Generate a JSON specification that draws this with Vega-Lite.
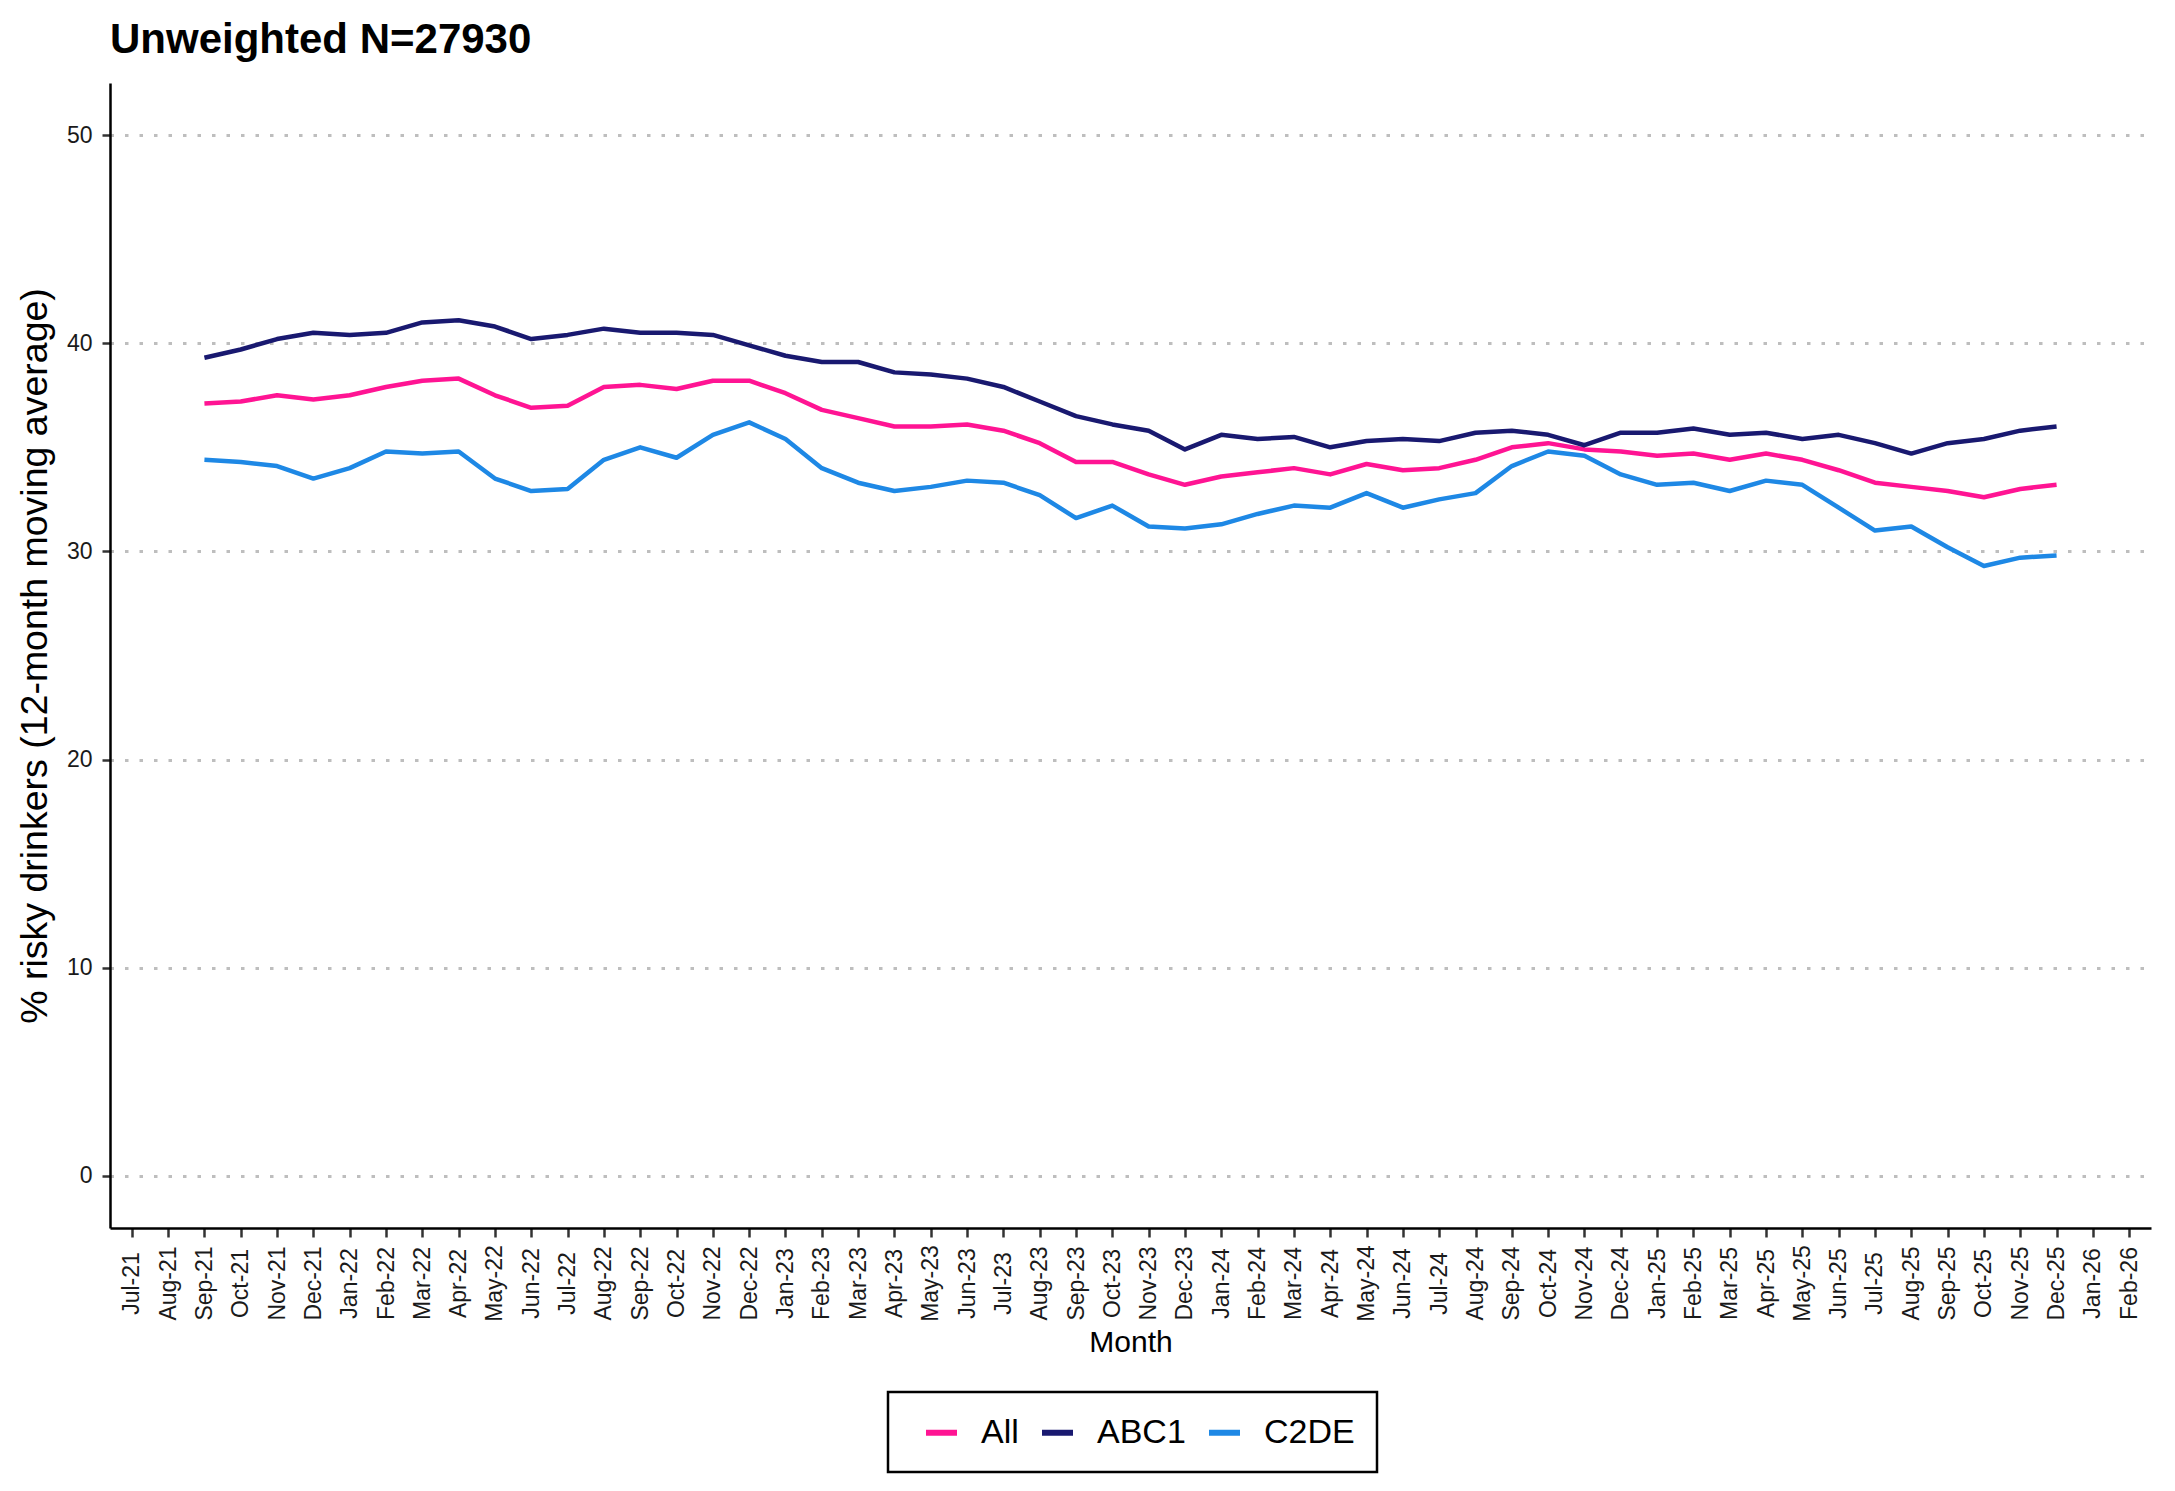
{
  "$schema": "https://vega.github.io/schema/vega-lite/v6.json",
  "width": 2041,
  "height": 1145,
  "autosize": {"type": "none"},
  "padding": {"left": 110, "top": 83, "right": 24, "bottom": 263},
  "background": "white",
  "title": {"text": "Unweighted N=27930", "anchor": "start", "frame": "group", "fontSize": 42, "fontWeight": "bold", "font": "Liberation Sans", "color": "black", "offset": 21},
  "datasets": {
    "series": [
      {"m":"Sep-21","g":"All","v":37.1},{"m":"Oct-21","g":"All","v":37.2},{"m":"Nov-21","g":"All","v":37.5},{"m":"Dec-21","g":"All","v":37.3},
      {"m":"Jan-22","g":"All","v":37.5},{"m":"Feb-22","g":"All","v":37.9},{"m":"Mar-22","g":"All","v":38.2},{"m":"Apr-22","g":"All","v":38.3},
      {"m":"May-22","g":"All","v":37.5},{"m":"Jun-22","g":"All","v":36.9},{"m":"Jul-22","g":"All","v":37.0},{"m":"Aug-22","g":"All","v":37.9},
      {"m":"Sep-22","g":"All","v":38.0},{"m":"Oct-22","g":"All","v":37.8},{"m":"Nov-22","g":"All","v":38.2},{"m":"Dec-22","g":"All","v":38.2},
      {"m":"Jan-23","g":"All","v":37.6},{"m":"Feb-23","g":"All","v":36.8},{"m":"Mar-23","g":"All","v":36.4},{"m":"Apr-23","g":"All","v":36.0},
      {"m":"May-23","g":"All","v":36.0},{"m":"Jun-23","g":"All","v":36.1},{"m":"Jul-23","g":"All","v":35.8},{"m":"Aug-23","g":"All","v":35.2},
      {"m":"Sep-23","g":"All","v":34.3},{"m":"Oct-23","g":"All","v":34.3},{"m":"Nov-23","g":"All","v":33.7},{"m":"Dec-23","g":"All","v":33.2},
      {"m":"Jan-24","g":"All","v":33.6},{"m":"Feb-24","g":"All","v":33.8},{"m":"Mar-24","g":"All","v":34.0},{"m":"Apr-24","g":"All","v":33.7},
      {"m":"May-24","g":"All","v":34.2},{"m":"Jun-24","g":"All","v":33.9},{"m":"Jul-24","g":"All","v":34.0},{"m":"Aug-24","g":"All","v":34.4},
      {"m":"Sep-24","g":"All","v":35.0},{"m":"Oct-24","g":"All","v":35.2},{"m":"Nov-24","g":"All","v":34.9},{"m":"Dec-24","g":"All","v":34.8},
      {"m":"Jan-25","g":"All","v":34.6},{"m":"Feb-25","g":"All","v":34.7},{"m":"Mar-25","g":"All","v":34.4},{"m":"Apr-25","g":"All","v":34.7},
      {"m":"May-25","g":"All","v":34.4},{"m":"Jun-25","g":"All","v":33.9},{"m":"Jul-25","g":"All","v":33.3},{"m":"Aug-25","g":"All","v":33.1},
      {"m":"Sep-25","g":"All","v":32.9},{"m":"Oct-25","g":"All","v":32.6},{"m":"Nov-25","g":"All","v":33.0},{"m":"Dec-25","g":"All","v":33.2},

      {"m":"Sep-21","g":"ABC1","v":39.3},{"m":"Oct-21","g":"ABC1","v":39.7},{"m":"Nov-21","g":"ABC1","v":40.2},{"m":"Dec-21","g":"ABC1","v":40.5},
      {"m":"Jan-22","g":"ABC1","v":40.4},{"m":"Feb-22","g":"ABC1","v":40.5},{"m":"Mar-22","g":"ABC1","v":41.0},{"m":"Apr-22","g":"ABC1","v":41.1},
      {"m":"May-22","g":"ABC1","v":40.8},{"m":"Jun-22","g":"ABC1","v":40.2},{"m":"Jul-22","g":"ABC1","v":40.4},{"m":"Aug-22","g":"ABC1","v":40.7},
      {"m":"Sep-22","g":"ABC1","v":40.5},{"m":"Oct-22","g":"ABC1","v":40.5},{"m":"Nov-22","g":"ABC1","v":40.4},{"m":"Dec-22","g":"ABC1","v":39.9},
      {"m":"Jan-23","g":"ABC1","v":39.4},{"m":"Feb-23","g":"ABC1","v":39.1},{"m":"Mar-23","g":"ABC1","v":39.1},{"m":"Apr-23","g":"ABC1","v":38.6},
      {"m":"May-23","g":"ABC1","v":38.5},{"m":"Jun-23","g":"ABC1","v":38.3},{"m":"Jul-23","g":"ABC1","v":37.9},{"m":"Aug-23","g":"ABC1","v":37.2},
      {"m":"Sep-23","g":"ABC1","v":36.5},{"m":"Oct-23","g":"ABC1","v":36.1},{"m":"Nov-23","g":"ABC1","v":35.8},{"m":"Dec-23","g":"ABC1","v":34.9},
      {"m":"Jan-24","g":"ABC1","v":35.6},{"m":"Feb-24","g":"ABC1","v":35.4},{"m":"Mar-24","g":"ABC1","v":35.5},{"m":"Apr-24","g":"ABC1","v":35.0},
      {"m":"May-24","g":"ABC1","v":35.3},{"m":"Jun-24","g":"ABC1","v":35.4},{"m":"Jul-24","g":"ABC1","v":35.3},{"m":"Aug-24","g":"ABC1","v":35.7},
      {"m":"Sep-24","g":"ABC1","v":35.8},{"m":"Oct-24","g":"ABC1","v":35.6},{"m":"Nov-24","g":"ABC1","v":35.1},{"m":"Dec-24","g":"ABC1","v":35.7},
      {"m":"Jan-25","g":"ABC1","v":35.7},{"m":"Feb-25","g":"ABC1","v":35.9},{"m":"Mar-25","g":"ABC1","v":35.6},{"m":"Apr-25","g":"ABC1","v":35.7},
      {"m":"May-25","g":"ABC1","v":35.4},{"m":"Jun-25","g":"ABC1","v":35.6},{"m":"Jul-25","g":"ABC1","v":35.2},{"m":"Aug-25","g":"ABC1","v":34.7},
      {"m":"Sep-25","g":"ABC1","v":35.2},{"m":"Oct-25","g":"ABC1","v":35.4},{"m":"Nov-25","g":"ABC1","v":35.8},{"m":"Dec-25","g":"ABC1","v":36.0},

      {"m":"Sep-21","g":"C2DE","v":34.4},{"m":"Oct-21","g":"C2DE","v":34.3},{"m":"Nov-21","g":"C2DE","v":34.1},{"m":"Dec-21","g":"C2DE","v":33.5},
      {"m":"Jan-22","g":"C2DE","v":34.0},{"m":"Feb-22","g":"C2DE","v":34.8},{"m":"Mar-22","g":"C2DE","v":34.7},{"m":"Apr-22","g":"C2DE","v":34.8},
      {"m":"May-22","g":"C2DE","v":33.5},{"m":"Jun-22","g":"C2DE","v":32.9},{"m":"Jul-22","g":"C2DE","v":33.0},{"m":"Aug-22","g":"C2DE","v":34.4},
      {"m":"Sep-22","g":"C2DE","v":35.0},{"m":"Oct-22","g":"C2DE","v":34.5},{"m":"Nov-22","g":"C2DE","v":35.6},{"m":"Dec-22","g":"C2DE","v":36.2},
      {"m":"Jan-23","g":"C2DE","v":35.4},{"m":"Feb-23","g":"C2DE","v":34.0},{"m":"Mar-23","g":"C2DE","v":33.3},{"m":"Apr-23","g":"C2DE","v":32.9},
      {"m":"May-23","g":"C2DE","v":33.1},{"m":"Jun-23","g":"C2DE","v":33.4},{"m":"Jul-23","g":"C2DE","v":33.3},{"m":"Aug-23","g":"C2DE","v":32.7},
      {"m":"Sep-23","g":"C2DE","v":31.6},{"m":"Oct-23","g":"C2DE","v":32.2},{"m":"Nov-23","g":"C2DE","v":31.2},{"m":"Dec-23","g":"C2DE","v":31.1},
      {"m":"Jan-24","g":"C2DE","v":31.3},{"m":"Feb-24","g":"C2DE","v":31.8},{"m":"Mar-24","g":"C2DE","v":32.2},{"m":"Apr-24","g":"C2DE","v":32.1},
      {"m":"May-24","g":"C2DE","v":32.8},{"m":"Jun-24","g":"C2DE","v":32.1},{"m":"Jul-24","g":"C2DE","v":32.5},{"m":"Aug-24","g":"C2DE","v":32.8},
      {"m":"Sep-24","g":"C2DE","v":34.1},{"m":"Oct-24","g":"C2DE","v":34.8},{"m":"Nov-24","g":"C2DE","v":34.6},{"m":"Dec-24","g":"C2DE","v":33.7},
      {"m":"Jan-25","g":"C2DE","v":33.2},{"m":"Feb-25","g":"C2DE","v":33.3},{"m":"Mar-25","g":"C2DE","v":32.9},{"m":"Apr-25","g":"C2DE","v":33.4},
      {"m":"May-25","g":"C2DE","v":33.2},{"m":"Jun-25","g":"C2DE","v":32.1},{"m":"Jul-25","g":"C2DE","v":31.0},{"m":"Aug-25","g":"C2DE","v":31.2},
      {"m":"Sep-25","g":"C2DE","v":30.2},{"m":"Oct-25","g":"C2DE","v":29.3},{"m":"Nov-25","g":"C2DE","v":29.7},{"m":"Dec-25","g":"C2DE","v":29.8}
    ]
  },
  "data": {"name": "series"},
  "mark": {"type": "line", "strokeWidth": 4.5, "strokeJoin": "round"},
  "encoding": {
    "x": {
      "field": "m",
      "type": "ordinal",
      "scale": {
        "type": "point",
        "padding": 0.6,
        "domain": ["Jul-21","Aug-21","Sep-21","Oct-21","Nov-21","Dec-21","Jan-22","Feb-22","Mar-22","Apr-22","May-22","Jun-22","Jul-22","Aug-22","Sep-22","Oct-22","Nov-22","Dec-22","Jan-23","Feb-23","Mar-23","Apr-23","May-23","Jun-23","Jul-23","Aug-23","Sep-23","Oct-23","Nov-23","Dec-23","Jan-24","Feb-24","Mar-24","Apr-24","May-24","Jun-24","Jul-24","Aug-24","Sep-24","Oct-24","Nov-24","Dec-24","Jan-25","Feb-25","Mar-25","Apr-25","May-25","Jun-25","Jul-25","Aug-25","Sep-25","Oct-25","Nov-25","Dec-25","Jan-26","Feb-26"]
      },
      "axis": {
        "title": "Month",
        "titleFontSize": 30,
        "titleFontWeight": "normal",
        "titleColor": "black",
        "titlePadding": 6,
        "labelAngle": 270,
        "labelAlign": "center",
        "labelBaseline": "middle",
        "labelPadding": 46,
        "labelFontSize": 23,
        "labelColor": "#1a1a1a",
        "labelOverlap": false,
        "labelFlush": false,
        "tickSize": 9,
        "tickWidth": 2.5,
        "tickColor": "#333333",
        "domainColor": "black",
        "domainWidth": 2.5,
        "grid": false
      }
    },
    "y": {
      "field": "v",
      "type": "quantitative",
      "scale": {"domain": [-2.5, 52.5], "nice": false, "zero": false},
      "axis": {
        "values": [0, 10, 20, 30, 40, 50],
        "title": "% risky drinkers (12-month moving average)",
        "titleFontSize": 37.5,
        "titleFontWeight": "normal",
        "titleColor": "black",
        "titlePadding": 12,
        "labelFontSize": 23,
        "labelColor": "#1a1a1a",
        "labelPadding": 10,
        "tickSize": 8,
        "tickWidth": 2.5,
        "tickColor": "#333333",
        "domainColor": "black",
        "domainWidth": 2.5,
        "grid": true,
        "gridColor": "#BEBEBE",
        "gridDash": [3.5, 11],
        "gridWidth": 3
      }
    },
    "color": {
      "field": "g",
      "type": "nominal",
      "scale": {"domain": ["All", "ABC1", "C2DE"], "range": ["#FF1493", "#191970", "#1E88E5"]},
      "legend": {
        "title": " ",
        "titleOrient": "left",
        "titleFontSize": 34,
        "titlePadding": 13,
        "orient": "none",
        "direction": "horizontal",
        "legendX": 778,
        "legendY": 1309,
        "strokeColor": "black",
        "fillColor": "white",
        "padding": 22,
        "symbolType": "stroke",
        "symbolSize": 961,
        "symbolStrokeWidth": 6,
        "labelFontSize": 34,
        "labelColor": "black",
        "labelOffset": 21,
        "columnPadding": 11
      }
    },
    "order": {"value": null}
  },
  "config": {
    "font": "Liberation Sans",
    "view": {"stroke": null},
    "legend": {"strokeWidth": 2.5}
  }
}
